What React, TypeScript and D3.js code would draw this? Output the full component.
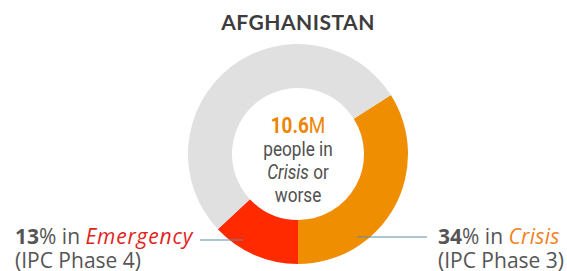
import React, { useEffect, useRef } from 'react'
import * as d3 from 'd3'

// Slices of the ring (percent of population)
const phases = ['Crisis', 'Emergency', 'Other']
const shares = [34, 13, 53]
const sliceColors = ['#EE8E00', '#FF2A00', '#E0E0E0']

const title = 'AFGHANISTAN'
const centerValue = '10.6'
const centerUnit = 'M'

const labelPhases = ['Crisis', 'Emergency']
const labelShares = [34, 13]
const labelIpc = ['(IPC Phase 3)', '(IPC Phase 4)']
const labelColors = ['#F0821E', '#E2231A']

export default function App() {
  const svgRef = useRef<SVGSVGElement>(null)

  useEffect(() => {
    const svg = d3.select(svgRef.current)
    svg.selectAll('*').remove()

    const width = 567
    const height = 271
    const cx = 298
    const cy = 154
    const outerRadius = 110
    const innerRadius = 66
    const labelFont = '"Open Sans", Lato, sans-serif'
    const narrowFont = 'Roboto, sans-serif'

    svg.attr('width', width).attr('height', height)

    // Title
    svg.append('text')
      .attr('x', cx)
      .attr('y', 30)
      .attr('text-anchor', 'middle')
      .style('font-family', 'Lato, sans-serif')
      .style('font-size', '21px')
      .style('font-weight', '700')
      .style('letter-spacing', '0.5px')
      .style('fill', '#3c3c3c')
      .text(title)

    // Crisis slice ends at the bottom, so start where 34% before 180deg
    const start = Math.PI - (shares[0] / d3.sum(shares)) * 2 * Math.PI
    const pie = d3.pie<number>()
      .sort(null)
      .startAngle(start)
      .endAngle(start + 2 * Math.PI)
    const arc = d3.arc<d3.PieArcDatum<number>>()
      .innerRadius(innerRadius)
      .outerRadius(outerRadius)

    const g = svg.append('g').attr('transform', `translate(${cx}, ${cy})`)
    const arcs = pie(shares)

    g.selectAll('path')
      .data(arcs)
      .enter()
      .append('path')
      .attr('d', arc)
      .attr('fill', (_, i) => sliceColors[i])

    // Leader lines
    const lineColor = '#5E8CA6'
    const leaderY = [237, 240]
    const leaderX = [[357, 427], [243, 200]]
    leaderX.forEach((xs, i) => {
      svg.append('line')
        .attr('x1', xs[0])
        .attr('x2', xs[1])
        .attr('y1', leaderY[i])
        .attr('y2', leaderY[i])
        .attr('stroke', lineColor)
        .attr('stroke-width', 1.2)
    })

    // Side labels
    const labelX = [438, 15]
    const labelY = [244, 244]
    labelPhases.forEach((phase, i) => {
      const t = svg.append('text')
        .attr('x', labelX[i])
        .attr('y', labelY[i])
        .style('font-family', labelFont)
        .style('font-size', '21px')
        .style('fill', '#555')
      t.append('tspan').style('font-weight', '700').text(labelShares[i])
      t.append('tspan').text('% in ')
      t.append('tspan')
        .style('font-style', 'italic')
        .style('letter-spacing', phase === 'Emergency' ? '0.8px' : '0.3px')
        .style('fill', labelColors[i])
        .text(phase)

      svg.append('text')
        .attr('x', labelX[i])
        .attr('y', labelY[i] + 24)
        .style('font-family', labelFont)
        .style('font-size', '21px')
        .style('fill', '#555')
        .text(labelIpc[i])
    })

    // Centre text, squeezed horizontally to look condensed
    const centre = svg.append('g').attr('transform', `translate(${cx}, 0) scale(0.86, 1)`)
    const c = centre.append('text')
      .attr('x', 0)
      .attr('y', 133)
      .attr('text-anchor', 'middle')
      .style('font-family', narrowFont)
      .style('font-size', '22px')
      .style('fill', '#EE8400')
    c.append('tspan').style('font-weight', '700').text(centerValue)
    c.append('tspan').text(centerUnit)

    const lines = [['people in'], ['Crisis', ' or'], ['worse']]
    lines.forEach((parts, i) => {
      const t = centre.append('text')
        .attr('x', 0)
        .attr('y', 156 + i * 23)
        .attr('text-anchor', 'middle')
        .style('font-family', narrowFont)
        .style('font-size', '20px')
        .style('fill', '#505050')
      parts.forEach(p => {
        t.append('tspan')
          .style('font-style', p === 'Crisis' ? 'italic' : 'normal')
          .text(p)
      })
    })
  }, [])

  return (
    <div style={{ position: 'fixed', top: 0, left: 0, width: 567, height: 271, background: '#fff' }}>
      <svg ref={svgRef} style={{ display: 'block' }} />
    </div>
  )
}
